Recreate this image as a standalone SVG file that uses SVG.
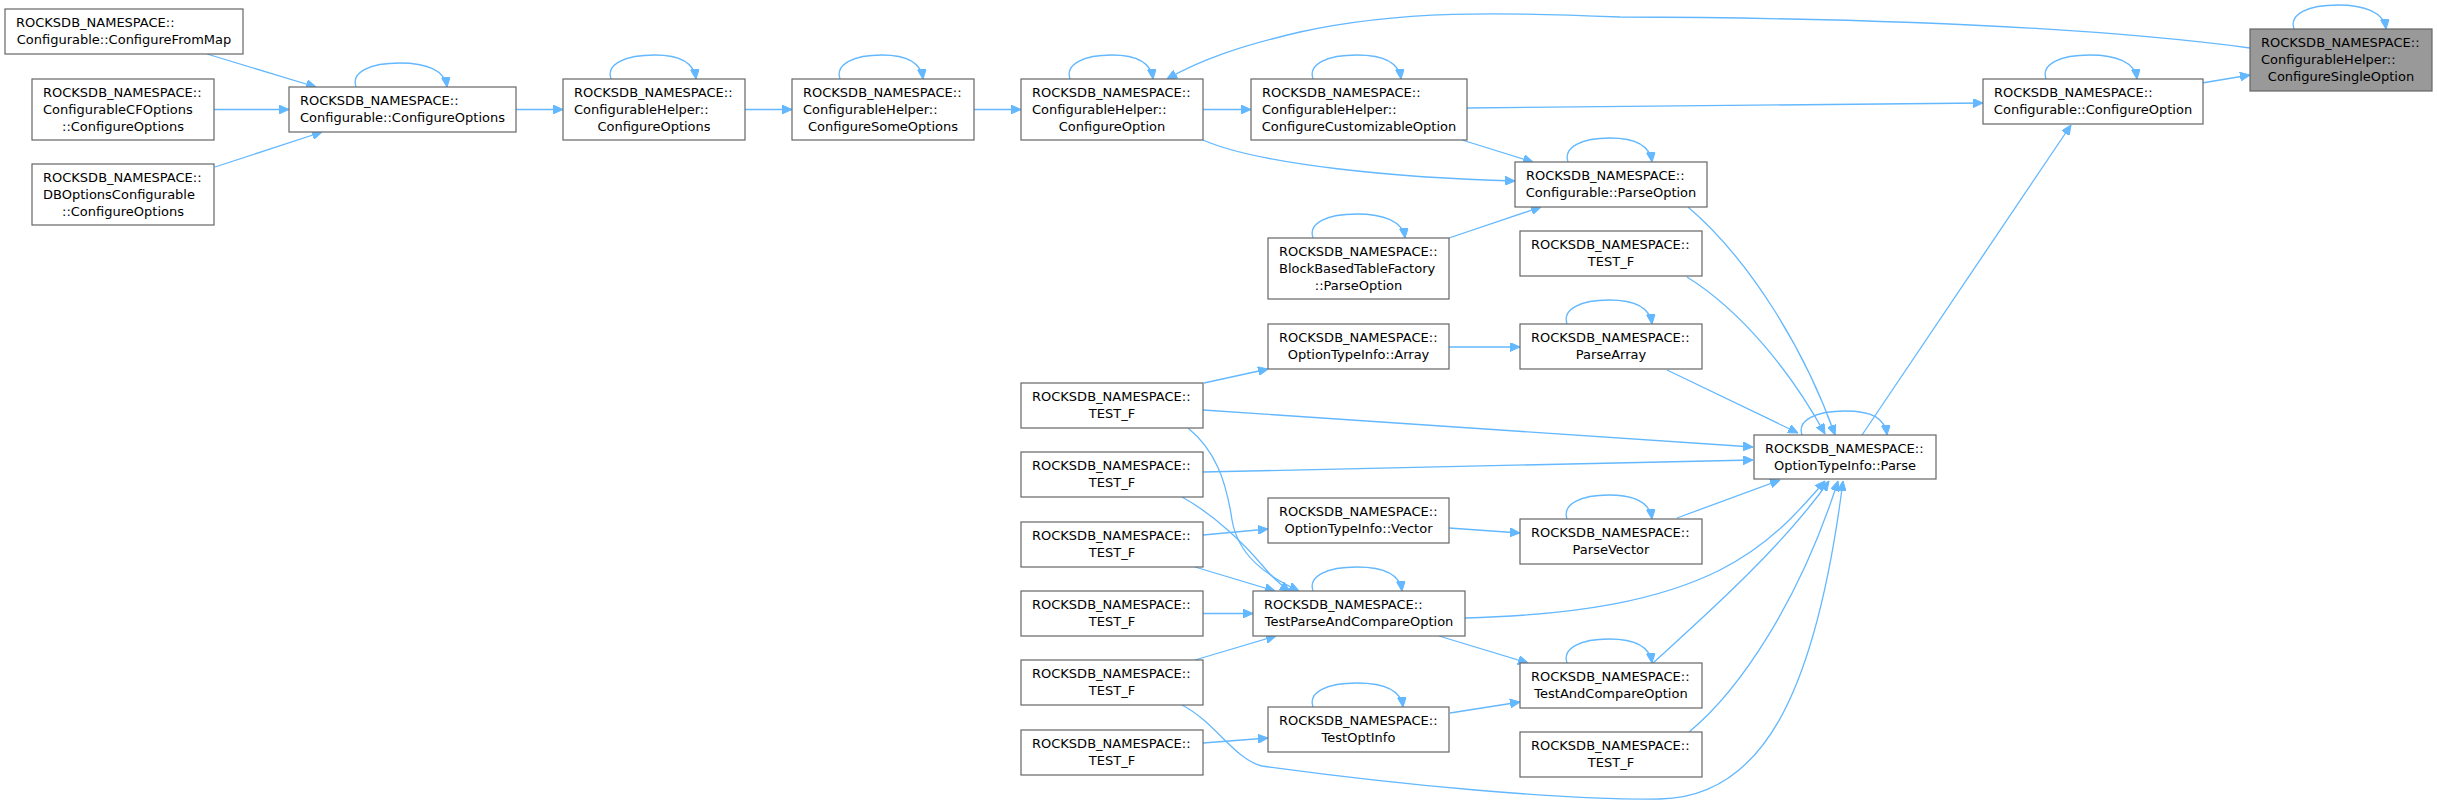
<svg xmlns="http://www.w3.org/2000/svg" width="2437" height="806" viewBox="0 0 2437 806">
<defs>
<marker id="ah" viewBox="0 0 10 9" refX="10" refY="4.5" markerWidth="10" markerHeight="9" markerUnits="userSpaceOnUse" orient="auto">
<path d="M0,0 L10,4.5 L0,9 z" fill="#63b8ff" stroke="#63b8ff" stroke-width="1"/>
</marker>
</defs>
<style>
.n rect{fill:#ffffff;stroke:#666666;stroke-width:1.2}
.n.hl rect{fill:#999999}
text{font-family:"DejaVu Sans",sans-serif;font-size:13px;fill:#000000}
.c{text-anchor:middle}
#edges path{fill:none;stroke:#63b8ff;stroke-width:1.3;marker-end:url(#ah)}
</style>
<rect width="2437" height="806" fill="#ffffff"/>
<g id="edges">
<path d="M207,54 L316,87"/>
<path d="M214,109.5 L289,109.5"/>
<path d="M215,167 L322,132"/>
<path d="M356,87 C351,72 370,63 400,63 C426,63 445,70 447,87"/>
<path d="M516,109.5 L563,109.5"/>
<path d="M611,79 C606,64 625,55 655,55 C680,55 694,62 696,79"/>
<path d="M745,109.5 L792,109.5"/>
<path d="M840,79 C835,64 854,55 882,55 C907,55 921,62 923,79"/>
<path d="M974,109.5 L1021,109.5"/>
<path d="M1070,79 C1065,64 1084,55 1112,55 C1137,55 1151,62 1153,79"/>
<path d="M1203,109.5 L1251,109.5"/>
<path d="M1313,79 C1308,64 1327,55 1357,55 C1383,55 1399,62 1401,79"/>
<path d="M1467,108 L1983,103"/>
<path d="M1203,140 C1260,165 1400,178 1515,181"/>
<path d="M1462,140 L1533,162"/>
<path d="M1568,162 C1563,147 1582,138 1610,138 C1635,138 1650,145 1652,162"/>
<path d="M1449,238 L1541,207"/>
<path d="M1313,238 C1308,223 1327,214 1357,214 C1383,214 1403,221 1405,238"/>
<path d="M1688,207 C1750,260 1805,350 1835,435"/>
<path d="M1687,277 C1740,310 1790,370 1825,434"/>
<path d="M1667,370 L1798,433"/>
<path d="M1567,324 C1562,309 1581,300 1609,300 C1634,300 1650,307 1652,324"/>
<path d="M1449,347 L1520,347"/>
<path d="M1204,383 L1268,369"/>
<path d="M1203,410 L1753,447"/>
<path d="M1203,472 L1753,460"/>
<path d="M1188,428 C1215,450 1226,480 1232,520 C1238,555 1265,575 1299,591"/>
<path d="M1182,497 C1215,515 1245,545 1262,565 C1272,577 1280,585 1290,591"/>
<path d="M1203,535 L1268,529"/>
<path d="M1195,567 L1275,591"/>
<path d="M1449,528 L1520,533"/>
<path d="M1567,519 C1562,504 1581,495 1609,495 C1634,495 1650,502 1652,519"/>
<path d="M1677,518 L1780,480"/>
<path d="M1313,591 C1308,576 1327,567 1357,567 C1383,567 1400,574 1402,591"/>
<path d="M1203,613.5 L1253,613.5"/>
<path d="M1195,660 L1276,636"/>
<path d="M1465,618 C1580,615 1660,600 1720,570 C1770,545 1800,510 1825,481"/>
<path d="M1439,636 L1528,663"/>
<path d="M1567,663 C1562,648 1581,639 1609,639 C1634,639 1650,646 1652,663"/>
<path d="M1653,663 C1700,620 1780,550 1829,481"/>
<path d="M1313,707 C1308,692 1327,683 1357,683 C1383,683 1401,690 1403,707"/>
<path d="M1450,713 L1520,702"/>
<path d="M1203,743 L1268,738"/>
<path d="M1689,732 C1740,690 1800,600 1838,481"/>
<path d="M1182,705 C1215,722 1235,760 1262,766 C1400,785 1560,800 1660,799 C1760,797 1815,700 1843,481"/>
<path d="M1802,435 C1797,420 1816,411 1845,411 C1872,411 1885,418 1887,435"/>
<path d="M1862,435 L2071,125"/>
<path d="M2046,79 C2041,64 2060,55 2090,55 C2116,55 2135,62 2137,79"/>
<path d="M2202,83 L2250,75"/>
<path d="M2294,29 C2289,14 2308,5 2338,5 C2364,5 2384,12 2386,29"/>
<path d="M2250,48 C2100,28 1900,18 1620,17 C1500,12 1400,10 1300,32 C1240,46 1200,60 1167,79"/>
</g>
<g id="n1" class="n"><rect x="5" y="9" width="238" height="45"/><text x="16" y="27">ROCKSDB_NAMESPACE::</text><text x="124" y="44" class="c">Configurable::ConfigureFromMap</text></g>
<g id="n2" class="n"><rect x="32" y="79" width="182" height="61"/><text x="43" y="97">ROCKSDB_NAMESPACE::</text><text x="43" y="114">ConfigurableCFOptions</text><text x="123" y="131" class="c">::ConfigureOptions</text></g>
<g id="n3" class="n"><rect x="32" y="164" width="182" height="61"/><text x="43" y="182">ROCKSDB_NAMESPACE::</text><text x="43" y="199">DBOptionsConfigurable</text><text x="123" y="216" class="c">::ConfigureOptions</text></g>
<g id="n4" class="n"><rect x="289" y="87" width="227" height="45"/><text x="300" y="105">ROCKSDB_NAMESPACE::</text><text x="402.5" y="122" class="c">Configurable::ConfigureOptions</text></g>
<g id="n5" class="n"><rect x="563" y="79" width="182" height="61"/><text x="574" y="97">ROCKSDB_NAMESPACE::</text><text x="574" y="114">ConfigurableHelper::</text><text x="654" y="131" class="c">ConfigureOptions</text></g>
<g id="n6" class="n"><rect x="792" y="79" width="182" height="61"/><text x="803" y="97">ROCKSDB_NAMESPACE::</text><text x="803" y="114">ConfigurableHelper::</text><text x="883" y="131" class="c">ConfigureSomeOptions</text></g>
<g id="n7" class="n"><rect x="1021" y="79" width="182" height="61"/><text x="1032" y="97">ROCKSDB_NAMESPACE::</text><text x="1032" y="114">ConfigurableHelper::</text><text x="1112" y="131" class="c">ConfigureOption</text></g>
<g id="n8" class="n"><rect x="1251" y="79" width="216" height="61"/><text x="1262" y="97">ROCKSDB_NAMESPACE::</text><text x="1262" y="114">ConfigurableHelper::</text><text x="1359" y="131" class="c">ConfigureCustomizableOption</text></g>
<g id="n9" class="n"><rect x="1515" y="162" width="192" height="45"/><text x="1526" y="180">ROCKSDB_NAMESPACE::</text><text x="1611" y="197" class="c">Configurable::ParseOption</text></g>
<g id="n10" class="n"><rect x="1268" y="238" width="181" height="61"/><text x="1279" y="256">ROCKSDB_NAMESPACE::</text><text x="1279" y="273">BlockBasedTableFactory</text><text x="1358.5" y="290" class="c">::ParseOption</text></g>
<g id="n11" class="n"><rect x="1520" y="231" width="182" height="45"/><text x="1531" y="249">ROCKSDB_NAMESPACE::</text><text x="1611" y="266" class="c">TEST_F</text></g>
<g id="n12" class="n"><rect x="1268" y="324" width="181" height="45"/><text x="1279" y="342">ROCKSDB_NAMESPACE::</text><text x="1358.5" y="359" class="c">OptionTypeInfo::Array</text></g>
<g id="n13" class="n"><rect x="1520" y="324" width="182" height="45"/><text x="1531" y="342">ROCKSDB_NAMESPACE::</text><text x="1611" y="359" class="c">ParseArray</text></g>
<g id="n14" class="n"><rect x="1021" y="383" width="182" height="45"/><text x="1032" y="401">ROCKSDB_NAMESPACE::</text><text x="1112" y="418" class="c">TEST_F</text></g>
<g id="n15" class="n"><rect x="1021" y="452" width="182" height="45"/><text x="1032" y="470">ROCKSDB_NAMESPACE::</text><text x="1112" y="487" class="c">TEST_F</text></g>
<g id="n16" class="n"><rect x="1754" y="435" width="182" height="44"/><text x="1765" y="453">ROCKSDB_NAMESPACE::</text><text x="1845" y="470" class="c">OptionTypeInfo::Parse</text></g>
<g id="n17" class="n"><rect x="1268" y="498" width="181" height="45"/><text x="1279" y="516">ROCKSDB_NAMESPACE::</text><text x="1358.5" y="533" class="c">OptionTypeInfo::Vector</text></g>
<g id="n18" class="n"><rect x="1520" y="519" width="182" height="45"/><text x="1531" y="537">ROCKSDB_NAMESPACE::</text><text x="1611" y="554" class="c">ParseVector</text></g>
<g id="n19" class="n"><rect x="1021" y="522" width="182" height="45"/><text x="1032" y="540">ROCKSDB_NAMESPACE::</text><text x="1112" y="557" class="c">TEST_F</text></g>
<g id="n20" class="n"><rect x="1253" y="591" width="212" height="45"/><text x="1264" y="609">ROCKSDB_NAMESPACE::</text><text x="1359" y="626" class="c">TestParseAndCompareOption</text></g>
<g id="n21" class="n"><rect x="1021" y="591" width="182" height="45"/><text x="1032" y="609">ROCKSDB_NAMESPACE::</text><text x="1112" y="626" class="c">TEST_F</text></g>
<g id="n22" class="n"><rect x="1021" y="660" width="182" height="45"/><text x="1032" y="678">ROCKSDB_NAMESPACE::</text><text x="1112" y="695" class="c">TEST_F</text></g>
<g id="n23" class="n"><rect x="1520" y="663" width="182" height="45"/><text x="1531" y="681">ROCKSDB_NAMESPACE::</text><text x="1611" y="698" class="c">TestAndCompareOption</text></g>
<g id="n24" class="n"><rect x="1268" y="707" width="181" height="45"/><text x="1279" y="725">ROCKSDB_NAMESPACE::</text><text x="1358.5" y="742" class="c">TestOptInfo</text></g>
<g id="n25" class="n"><rect x="1021" y="730" width="182" height="45"/><text x="1032" y="748">ROCKSDB_NAMESPACE::</text><text x="1112" y="765" class="c">TEST_F</text></g>
<g id="n26" class="n"><rect x="1520" y="732" width="182" height="45"/><text x="1531" y="750">ROCKSDB_NAMESPACE::</text><text x="1611" y="767" class="c">TEST_F</text></g>
<g id="n27" class="n"><rect x="1983" y="79" width="220" height="45"/><text x="1994" y="97">ROCKSDB_NAMESPACE::</text><text x="2093" y="114" class="c">Configurable::ConfigureOption</text></g>
<g id="n28" class="n hl"><rect x="2250" y="29" width="182" height="62"/><text x="2261" y="47">ROCKSDB_NAMESPACE::</text><text x="2261" y="64">ConfigurableHelper::</text><text x="2341" y="81" class="c">ConfigureSingleOption</text></g>
</svg>
